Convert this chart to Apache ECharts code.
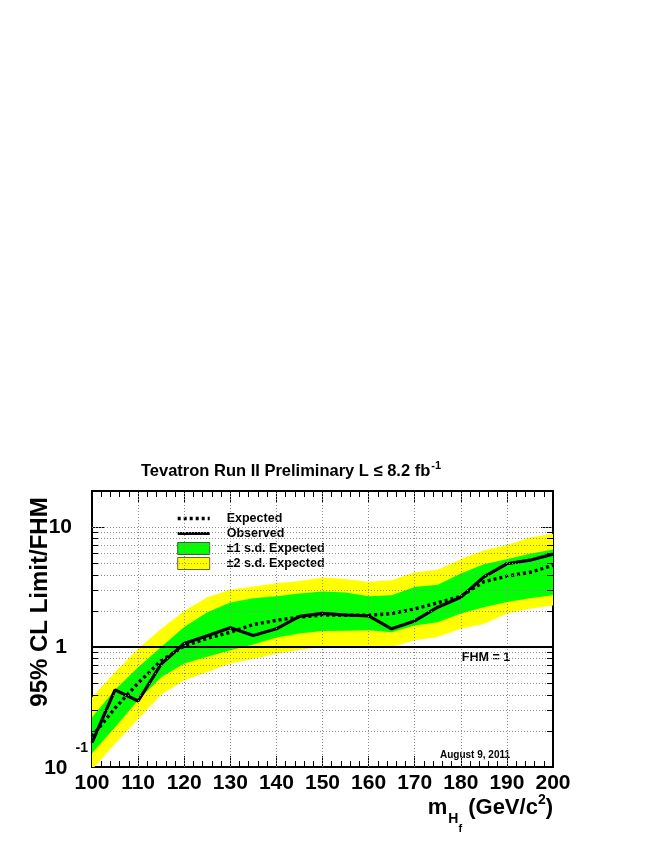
<!DOCTYPE html>
<html>
<head>
<meta charset="utf-8">
<script src="https://cdn.jsdelivr.net/npm/echarts@6/dist/echarts.min.js"></script>
<style>
  html, body { margin: 0; padding: 0; background: #fff; }
  #chart { width: 664px; height: 860px; }
</style>
</head>
<body>
<div id="chart"></div>
<script>
  // Higgs mass points (GeV/c^2)
  var masses = [100, 105, 110, 115, 120, 125, 130, 135, 140, 145, 150, 155, 160, 165, 170, 175, 180, 185, 190, 195, 200]
  var expected = [0.18, 0.31, 0.50, 0.77, 1.02, 1.18, 1.33, 1.54, 1.67, 1.78, 1.85, 1.84, 1.84, 1.90, 2.08, 2.34, 2.65, 3.5, 3.9, 4.2, 4.8]
  var observed = [0.16, 0.44, 0.355, 0.72, 1.07, 1.24, 1.45, 1.25, 1.42, 1.8, 1.91, 1.85, 1.82, 1.42, 1.65, 2.15, 2.6, 3.85, 4.95, 5.3, 5.95]
  var oneSigmaLow = [0.13, 0.215, 0.36, 0.56, 0.73, 0.83, 0.94, 1.05, 1.2, 1.3, 1.36, 1.37, 1.38, 1.33, 1.51, 1.61, 1.9, 2.15, 2.37, 2.55, 2.7]
  var oneSigmaHigh = [0.26, 0.44, 0.68, 1.0, 1.47, 1.95, 2.35, 2.55, 2.65, 2.8, 2.9, 2.85, 2.65, 2.7, 3.16, 3.3, 4.1, 4.9, 5.4, 6.0, 6.5]
  var twoSigmaLow = [0.095, 0.156, 0.25, 0.40, 0.53, 0.62, 0.73, 0.80, 0.88, 0.95, 1.0, 1.0, 1.0, 1.0, 1.14, 1.21, 1.42, 1.56, 1.9, 2.09, 2.22]
  var twoSigmaHigh = [0.38, 0.62, 0.97, 1.42, 2.0, 2.6, 3.0, 3.2, 3.4, 3.55, 3.8, 3.7, 3.5, 3.6, 4.2, 4.4, 5.4, 6.4, 7.1, 8.2, 8.8]

  var xGridValues = [110, 120, 130, 140, 150, 160, 170, 180, 190]
  var yGridValues = [0.2, 0.3, 0.4, 0.5, 0.6, 0.7, 0.8, 0.9, 2, 3, 4, 5, 6, 7, 8, 9, 10]
  var yMinorTicks = [0.2, 0.3, 0.4, 0.5, 0.6, 0.7, 0.8, 0.9, 2, 3, 4, 5, 6, 7, 8, 9]

  var FONT = 'Liberation Sans, Arial, Helvetica, sans-serif'

  function pairs(ys) {
    return masses.map(function (m, i) { return [m, ys[i]] })
  }

  // band = closed polygon from upper edge then lower edge, drawn once
  function bandSeries(name, lo, hi, color) {
    return {
      name: name, type: 'custom', silent: true, z: 1,
      itemStyle: {color: color},
      data: masses.map(function (m, i) { return [m, lo[i], hi[i]] }),
      encode: {x: 0, y: [1, 2]},
      renderItem: function (params, api) {
        if (params.dataIndex !== 0) return
        var pts = []
        for (var i = 0; i < masses.length; i++) pts.push(api.coord([masses[i], hi[i]]))
        for (var j = masses.length - 1; j >= 0; j--) pts.push(api.coord([masses[j], lo[j]]))
        var cs = params.coordSys
        return {
          type: 'polygon',
          shape: {points: pts},
          style: {fill: color, stroke: null},
          clipPath: {type: 'rect', shape: {x: cs.x, y: cs.y, width: cs.width, height: cs.height}}
        }
      }
    }
  }

  var chart = echarts.init(document.getElementById('chart'), null, {renderer: 'canvas'})

  var tickSegments = []
  yMinorTicks.forEach(function (v) {
    tickSegments.push([{coord: [100, v]}, {coord: [101.3, v]}])
    tickSegments.push([{coord: [198.7, v]}, {coord: [200, v]}])
  })

  var xAxisBase = {
    type: 'value', min: 100, max: 200, interval: 10,
    axisLine: {show: true, onZero: false, lineStyle: {color: '#000', width: 2}},
    axisTick: {show: true, inside: true, length: 11, lineStyle: {color: '#000', width: 1}},
    minorTick: {show: true, splitNumber: 5, length: 6, lineStyle: {color: '#000', width: 1}},
    splitLine: {show: false}
  }
  var yAxisBase = {
    type: 'log', logBase: 10, min: 0.1, max: 20,
    axisLine: {show: true, onZero: false, lineStyle: {color: '#000', width: 2}},
    axisTick: {show: true, inside: true, length: 12, lineStyle: {color: '#000', width: 1}},
    splitLine: {show: false}
  }

  var option = {
    backgroundColor: '#fff',
    animation: false,
    grid: {left: 92, right: 111, top: 491, bottom: 93, show: true, borderColor: '#000', borderWidth: 2, backgroundColor: 'transparent'},
    xAxis: [
      Object.assign({}, xAxisBase, {
        position: 'bottom',
        axisLabel: {show: true, margin: 6, color: '#000', fontSize: 21, fontWeight: 'bold', fontFamily: FONT}
      }),
      Object.assign({}, xAxisBase, {position: 'top', axisLabel: {show: false}})
    ],
    yAxis: [
      Object.assign({}, yAxisBase, {
        position: 'left',
        axisLabel: {
          show: true, margin: 4, color: '#000',
          formatter: function (v) {
            if (Math.abs(v - 10) < 1e-6) return '{a|10}'
            if (Math.abs(v - 1) < 1e-6) return '{c|1}'
            if (Math.abs(v - 0.1) < 1e-6) return '{b|10}{s|-1}'
            return ''
          },
          rich: {
            a: {fontSize: 21, fontWeight: 'bold', fontFamily: FONT, color: '#000', padding: [0, 16, 0, 0]},
            c: {fontSize: 21, fontWeight: 'bold', fontFamily: FONT, color: '#000', padding: [0, 21, 0, 0]},
            b: {fontSize: 21, fontWeight: 'bold', fontFamily: FONT, color: '#000', verticalAlign: 'bottom', padding: [0, 0, 14, 0]},
            s: {fontSize: 14, fontWeight: 'bold', fontFamily: FONT, color: '#000', verticalAlign: 'bottom', padding: [0, 0, 38, 8]}
          }
        }
      }),
      Object.assign({}, yAxisBase, {position: 'right', axisLabel: {show: false}})
    ],
    legend: {
      orient: 'vertical', left: 176, top: 512, padding: 0,
      itemWidth: 32, itemHeight: 12, itemGap: 2,
      selectedMode: false,
      textStyle: {fontSize: 12.5, fontWeight: 'bold', fontFamily: FONT, color: '#000', lineHeight: 12, padding: [0, 0, 0, 12]},
      data: [
        {name: 'Expected', itemStyle: {opacity: 0}, lineStyle: {color: '#000', width: 3.4, type: [3, 3], cap: 'butt'}},
        {name: 'Observed', itemStyle: {opacity: 0}, lineStyle: {color: '#000', width: 3.2}},
        {name: '±1 s.d. Expected', icon: 'rect', itemStyle: {color: '#00ff00', borderColor: '#336633', borderWidth: 1}},
        {name: '±2 s.d. Expected', icon: 'rect', itemStyle: {color: '#ffff00', borderColor: '#666633', borderWidth: 1}}
      ]
    },
    series: [
      bandSeries('±2 s.d. Expected', twoSigmaLow, twoSigmaHigh, '#ffff00'),
      bandSeries('±1 s.d. Expected', oneSigmaLow, oneSigmaHigh, '#00ff00'),
      {
        // dotted grid over the bands
        name: 'gridLines', type: 'line', data: pairs(expected), symbol: 'none', silent: true, z: 2,
        lineStyle: {opacity: 0, width: 0},
        markLine: {
          silent: true, symbol: 'none', label: {show: false}, animation: false,
          lineStyle: {type: [1, 2], color: '#8c8c8c', width: 1},
          data: yGridValues.map(function (v) { return {yAxis: v} })
            .concat(xGridValues.map(function (v) { return {xAxis: v} }))
        }
      },
      {
        name: 'yTicks', type: 'line', data: pairs(expected), symbol: 'none', silent: true, z: 2,
        lineStyle: {opacity: 0, width: 0},
        markLine: {
          silent: true, symbol: 'none', label: {show: false}, animation: false,
          lineStyle: {type: 'solid', color: '#000', width: 1},
          data: tickSegments
        }
      },
      {
        name: 'Expected', type: 'line', data: pairs(expected), symbol: 'none', z: 3,
        itemStyle: {color: '#000'},
        lineStyle: {color: '#000', width: 3.4, type: [3, 3], cap: 'butt'}
      },
      {
        name: 'Observed', type: 'line', data: pairs(observed), symbol: 'none', z: 3,
        itemStyle: {color: '#000'},
        lineStyle: {color: '#000', width: 3.2},
        markLine: {
          silent: true, symbol: 'none', label: {show: false}, animation: false,
          lineStyle: {type: 'solid', color: '#000', width: 2},
          data: [{yAxis: 1}]
        }
      }
    ],
    graphic: [
      {
        type: 'text', x: 291, y: 470,
        style: {
          text: '{t|Tevatron Run II Preliminary L ≤ 8.2 fb}{s|-1}',
          align: 'center', verticalAlign: 'middle',
          rich: {
            t: {fontSize: 16.5, fontWeight: 'bold', fontFamily: FONT, fill: '#000', verticalAlign: 'bottom'},
            s: {fontSize: 11, fontWeight: 'bold', fontFamily: FONT, fill: '#000', verticalAlign: 'bottom', padding: [0, 0, 8, 1]}
          }
        }
      },
      {
        type: 'text', x: 40, y: 602, rotation: Math.PI / 2,
        style: {
          text: '95% CL Limit/FHM', fontSize: 24, fontWeight: 'bold', fontFamily: FONT, fill: '#000',
          align: 'center', verticalAlign: 'middle'
        }
      },
      {
        type: 'text', x: 553, y: 834,
        style: {
          text: '{m|m}{h|H}{f|f}{m| (GeV/c}{s|2}{m|)}',
          align: 'right', verticalAlign: 'bottom',
          rich: {
            m: {fontSize: 22, fontWeight: 'bold', fontFamily: FONT, fill: '#000', verticalAlign: 'bottom', padding: [0, 0, 15, 0]},
            h: {fontSize: 14, fontWeight: 'bold', fontFamily: FONT, fill: '#000', verticalAlign: 'bottom', padding: [0, 0, 8, 1]},
            f: {fontSize: 11, fontWeight: 'bold', fontFamily: FONT, fill: '#000', verticalAlign: 'bottom', padding: [0, 0, 0, 0]},
            s: {fontSize: 14, fontWeight: 'bold', fontFamily: FONT, fill: '#000', verticalAlign: 'bottom', padding: [0, 0, 27, 0]}
          }
        }
      },
      {
        type: 'text', x: 486, y: 658,
        style: {text: 'FHM = 1', fontSize: 12.5, fontWeight: 'bold', fontFamily: FONT, fill: '#000', align: 'center', verticalAlign: 'middle'}
      },
      {
        type: 'text', x: 475, y: 755,
        style: {text: 'August 9, 2011', fontSize: 10, fontWeight: 'bold', fontFamily: FONT, fill: '#000', align: 'center', verticalAlign: 'middle'}
      }
    ]
  }
  chart.setOption(option)
</script>
</body>
</html>
